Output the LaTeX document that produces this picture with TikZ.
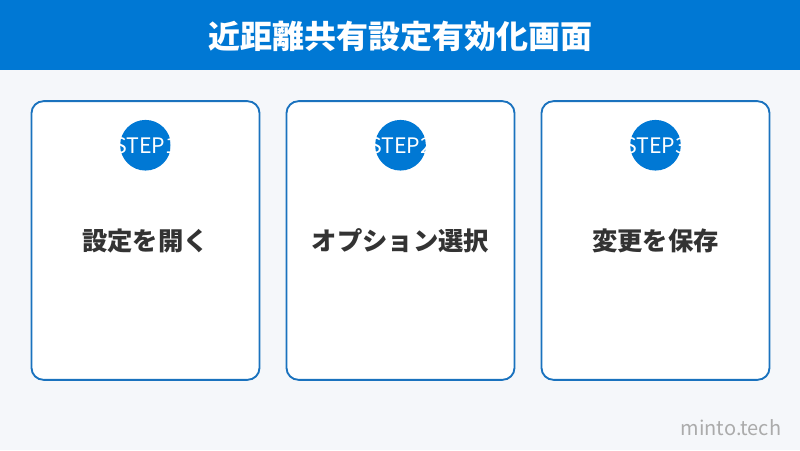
\documentclass[tikz,border=0pt]{standalone}
\usepackage{fontspec}
\setmainfont{Noto Sans CJK JP}
\usetikzlibrary{positioning,calc}
\definecolor{mainblue}{HTML}{0078D4}
\definecolor{cardline}{HTML}{1A72BE}
\definecolor{pagebg}{HTML}{F5F7FA}
\definecolor{textdark}{HTML}{333333}
\definecolor{markgray}{HTML}{ABABAB}
\tikzset{
  stepcard/.style={draw=cardline, line width=1.4pt, fill=white, rounded corners=9pt,
                   minimum width=171pt, minimum height=209pt, inner sep=0pt},
  stepdisc/.style={circle, fill=mainblue, minimum size=38pt, inner sep=0pt},
  steptag/.style={text=white, font=\fontsize{16}{18}\selectfont, inner sep=0pt},
  steplabel/.style={text=textdark, font=\fontsize{19}{22}\selectfont\bfseries},
}

\begin{document}
\begin{tikzpicture}[x=0.75pt, y=-0.75pt]
\useasboundingbox (0,0) rectangle (800,450);
\fill[pagebg] (0,0) rectangle (800,450);                  % page
\fill[mainblue] (0,0) rectangle (800,70);                 % header bar
\node[text=white, font=\fontsize{24}{28}\selectfont\bfseries] (title) at (400,36) {近距離共有設定有効化画面};
\foreach \i/\xc/\txt in {1/145.5/設定を開く, 2/400.5/オプション選択, 3/655.5/変更を保存}
{
\node[stepcard] (card\i) at (\xc,240.5) {};
\node[stepdisc] (disc\i) at ($(card\i.north)+(0,45)$) {};
\node[steptag] (tag\i) at (disc\i.center) {STEP\i};
\node[steplabel] (label\i) at (card\i.center) {\txt};
}
\node[anchor=east, text=markgray, font=\fontsize{15}{18}\selectfont] (mark) at (786,428) {minto.tech};
\end{tikzpicture}
\end{document}
